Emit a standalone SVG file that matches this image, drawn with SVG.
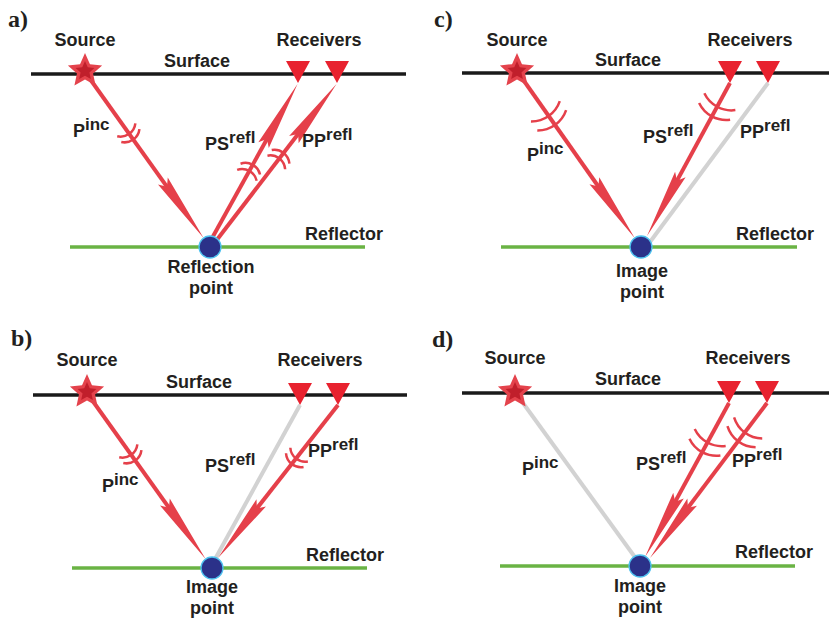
<svg xmlns="http://www.w3.org/2000/svg" xmlns:xlink="http://www.w3.org/1999/xlink" width="829" height="622" viewBox="0 0 829 622">
<style>
  text { font-family: "Liberation Sans", Arial, sans-serif; font-weight: bold; font-size: 18px; fill: #231f20; }
  .mid { text-anchor: middle; }
  .sup { font-size: 17px; }
  .plab { font-family: "Liberation Serif", "Times New Roman", serif; font-size: 24px; fill: #231f20; }
  .surface { stroke: #1a1a1a; stroke-width: 3.5; }
  .reflector { stroke: #6ab344; stroke-width: 3.5; }
  .ray { stroke: #e5404a; stroke-width: 4; fill: none; }
  .gray { stroke: #d2d2d2; stroke-width: 4; fill: none; }
  .head { fill: #e5404a; }
  .arc { stroke: #e5404a; stroke-width: 2.5; fill: none; }
  .rec { fill: #e8222f; }
  .starO { fill: #e4434c; }
  .starI { fill: #c01f2b; }
  .pt { fill: #2b3189; stroke: #4fc3f0; stroke-width: 1.3; }
</style>
<defs>
  <path id="head" class="head" d="M0,0 L-70,-6 L-63,0 L-70,6 Z"/>
  <path id="arcS" class="arc" d="M-4.96,-11.15 A15,15 0 0 1 -4.96,11.15 M2.04,-11.15 A15,15 0 0 1 2.04,11.15"/>
  <path id="arcL" class="arc" d="M-5.73,-17.63 A30,30 0 0 1 -5.73,17.63 M5.27,-17.63 A30,30 0 0 1 5.27,17.63"/>
  <polygon id="star" points="0,-18 4.98,-6.85 17.12,-5.56 8.06,2.62 10.58,14.56 0,8.47 -10.58,14.56 -8.06,2.62 -17.12,-5.56 -4.98,-6.85"/>
  <polygon id="rec" class="rec" points="-12,0 12,0 0,22"/>
</defs>

<!-- Panel labels -->
<text class="plab" x="8" y="27">a)</text>
<text class="plab" x="11" y="346">b)</text>
<text class="plab" x="434" y="27">c)</text>
<text class="plab" x="432" y="347">d)</text>

<!-- Lines: surfaces and reflectors -->
<g id="surfaces">
  <line class="surface" x1="31" y1="74" x2="406" y2="74"/>
  <line class="surface" x1="33" y1="395" x2="407" y2="395"/>
  <line class="surface" x1="462" y1="73" x2="829" y2="73"/>
  <line class="surface" x1="462" y1="393" x2="829" y2="393"/>
</g>
<g id="reflectors">
  <line class="reflector" x1="70" y1="247" x2="365" y2="247"/>
  <line class="reflector" x1="72" y1="568" x2="367" y2="568"/>
  <line class="reflector" x1="501" y1="247" x2="797" y2="247"/>
  <line class="reflector" x1="500" y1="566" x2="795" y2="566"/>
</g>

<!-- Connectors (rays) -->
<g id="connectors">
  <!-- a -->
  <g transform="translate(85,72) rotate(54.46)"><line class="ray" x1="0" y1="0" x2="174" y2="0"/><use xlink:href="#head" x="204"/><use xlink:href="#arcS" x="76"/></g>
  <g transform="translate(211,240) rotate(-60.99)"><line class="ray" x1="0" y1="0" x2="148.4" y2="0"/><use xlink:href="#head" x="178.4"/><use xlink:href="#arcS" x="79"/></g>
  <g transform="translate(216,241) rotate(-52.49)"><line class="ray" x1="0" y1="0" x2="167.9" y2="0"/><use xlink:href="#head" x="197.9"/><use xlink:href="#arcS" x="104"/></g>
  <!-- b -->
  <line class="gray" x1="300" y1="405" x2="214" y2="561"/>
  <g transform="translate(87,393) rotate(54.46)"><line class="ray" x1="0" y1="0" x2="174" y2="0"/><use xlink:href="#head" x="204"/><use xlink:href="#arcS" x="76"/></g>
  <g transform="translate(338,405) rotate(128.11)"><line class="ray" x1="0" y1="0" x2="164.4" y2="0"/><use xlink:href="#head" x="194.4"/><use xlink:href="#arcS" x="68"/></g>
  <!-- c -->
  <line class="gray" x1="768" y1="83" x2="650" y2="242"/>
  <g transform="translate(517,71) rotate(54.83)"><line class="ray" x1="0" y1="0" x2="174.3" y2="0"/><use xlink:href="#head" x="204.3"/><use xlink:href="#arcL" x="55"/></g>
  <g transform="translate(730,83) rotate(118.48)"><line class="ray" x1="0" y1="0" x2="144.1" y2="0"/><use xlink:href="#head" x="174.1"/><use xlink:href="#arcL" x="27"/></g>
  <!-- d -->
  <line class="gray" x1="515" y1="392" x2="637" y2="560"/>
  <g transform="translate(729,403) rotate(118.61)"><line class="ray" x1="0" y1="0" x2="145.4" y2="0"/><use xlink:href="#head" x="175.4"/><use xlink:href="#arcL" x="45"/></g>
  <g transform="translate(767,403) rotate(127.05)"><line class="ray" x1="0" y1="0" x2="164.2" y2="0"/><use xlink:href="#head" x="194.2"/><use xlink:href="#arcL" x="37"/></g>
</g>

<!-- Panel a nodes -->
<g id="a-source"><g transform="translate(85,71)"><use xlink:href="#star" class="starO"/><use xlink:href="#star" class="starI" transform="scale(0.55)"/></g><text class="mid" x="85" y="46">Source</text></g>
<g id="a-receivers"><use xlink:href="#rec" x="298" y="61"/><use xlink:href="#rec" x="337" y="61"/><text class="mid" x="319" y="46">Receivers</text></g>
<g id="a-surface-label"><text class="mid" x="197" y="67">Surface</text></g>
<g id="a-reflector-label"><text class="mid" x="344" y="240">Reflector</text></g>
<g id="a-point"><circle class="pt" cx="210" cy="247" r="11"/><text class="mid" x="211" y="273">Reflection</text><text class="mid" x="211" y="294">point</text></g>
<g id="a-labels">
  <text x="73" y="137">P<tspan class="sup" dy="-7">inc</tspan></text>
  <text x="205" y="150">PS<tspan class="sup" dy="-7">refl</tspan></text>
  <text x="302" y="147">PP<tspan class="sup" dy="-7">refl</tspan></text>
</g>

<!-- Panel b nodes -->
<g id="b-source"><g transform="translate(87,392)"><use xlink:href="#star" class="starO"/><use xlink:href="#star" class="starI" transform="scale(0.55)"/></g><text class="mid" x="87" y="366">Source</text></g>
<g id="b-receivers"><use xlink:href="#rec" x="300" y="383"/><use xlink:href="#rec" x="338" y="383"/><text class="mid" x="320" y="366">Receivers</text></g>
<g id="b-surface-label"><text class="mid" x="199" y="388">Surface</text></g>
<g id="b-reflector-label"><text class="mid" x="345" y="561">Reflector</text></g>
<g id="b-point"><circle class="pt" cx="212" cy="568" r="11"/><text class="mid" x="212" y="593">Image</text><text class="mid" x="212" y="614">point</text></g>
<g id="b-labels">
  <text x="102" y="492">P<tspan class="sup" dy="-7">inc</tspan></text>
  <text x="205" y="472">PS<tspan class="sup" dy="-7">refl</tspan></text>
  <text x="308" y="457">PP<tspan class="sup" dy="-7">refl</tspan></text>
</g>

<!-- Panel c nodes -->
<g id="c-source"><g transform="translate(517,71)"><use xlink:href="#star" class="starO"/><use xlink:href="#star" class="starI" transform="scale(0.55)"/></g><text class="mid" x="517" y="46">Source</text></g>
<g id="c-receivers"><use xlink:href="#rec" x="730" y="61"/><use xlink:href="#rec" x="768" y="61"/><text class="mid" x="750" y="46">Receivers</text></g>
<g id="c-surface-label"><text class="mid" x="628" y="66">Surface</text></g>
<g id="c-reflector-label"><text class="mid" x="775" y="240">Reflector</text></g>
<g id="c-point"><circle class="pt" cx="641" cy="247" r="11"/><text class="mid" x="642" y="277">Image</text><text class="mid" x="642" y="298">point</text></g>
<g id="c-labels">
  <text x="527" y="161">P<tspan class="sup" dy="-7">inc</tspan></text>
  <text x="643" y="143">PS<tspan class="sup" dy="-7">refl</tspan></text>
  <text x="740" y="138">PP<tspan class="sup" dy="-7">refl</tspan></text>
</g>

<!-- Panel d nodes -->
<g id="d-source"><g transform="translate(515,392)"><use xlink:href="#star" class="starO"/><use xlink:href="#star" class="starI" transform="scale(0.55)"/></g><text class="mid" x="515" y="364">Source</text></g>
<g id="d-receivers"><use xlink:href="#rec" x="729" y="381"/><use xlink:href="#rec" x="767" y="381"/><text class="mid" x="748" y="364">Receivers</text></g>
<g id="d-surface-label"><text class="mid" x="628" y="385">Surface</text></g>
<g id="d-reflector-label"><text class="mid" x="774" y="558">Reflector</text></g>
<g id="d-point"><circle class="pt" cx="640" cy="566" r="11"/><text class="mid" x="640" y="592">Image</text><text class="mid" x="640" y="613">point</text></g>
<g id="d-labels">
  <text x="522" y="475">P<tspan class="sup" dy="-7">inc</tspan></text>
  <text x="636" y="470">PS<tspan class="sup" dy="-7">refl</tspan></text>
  <text x="732" y="467">PP<tspan class="sup" dy="-7">refl</tspan></text>
</g>
</svg>
